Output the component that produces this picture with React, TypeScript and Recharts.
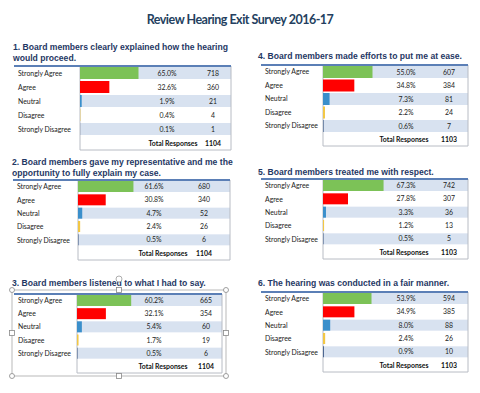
import React from 'react';
import { BarChart, Bar, XAxis, YAxis, Cell, LabelList, ReferenceArea } from 'recharts';

// survey answers, same order in every table
const categories = ['Strongly Agree', 'Agree', 'Neutral', 'Disagree', 'Strongly Disagree'];
const barColors = ['#7cc257', '#ff0000', '#3a8fcb', '#f2c744', '#2f4f80'];

const titles = [
  ['1. Board members clearly explained how the hearing', 'would proceed.'],
  ['2. Board members gave my representative and me the', 'opportunity to fully explain my case.'],
  ['3. Board members listened to what I had to say.'],
  ['4. Board members made efforts to put me at ease.'],
  ['5. Board members treated me with respect.'],
  ['6. The hearing was conducted in a fair manner.'],
];

const pct1 = [65.0, 32.6, 1.9, 0.4, 0.1];
const count1 = [718, 360, 21, 4, 1];
const pct2 = [61.6, 30.8, 4.7, 2.4, 0.5];
const count2 = [680, 340, 52, 26, 6];
const pct3 = [60.2, 32.1, 5.4, 1.7, 0.5];
const count3 = [665, 354, 60, 19, 6];
const pct4 = [55.0, 34.8, 7.3, 2.2, 0.6];
const count4 = [607, 384, 81, 24, 7];
const pct5 = [67.3, 27.8, 3.3, 1.2, 0.5];
const count5 = [742, 307, 36, 13, 5];
const pct6 = [53.9, 34.9, 8.0, 2.4, 0.9];
const count6 = [594, 385, 88, 26, 10];
const totals = [1104, 1104, 1104, 1103, 1103, 1103];

const pcts = [pct1, pct2, pct3, pct4, pct5, pct6];
const counts = [count1, count2, count3, count4, count5, count6];

// where each table sits on the page
const layout = [
  { tx: 13, ty: 42, left: 14, top: 66, labelW: 66, plotW: 151, h: 84, pctX: 87, cntX: 133, totX: 93 },
  { tx: 12, ty: 157, left: 13, top: 180, labelW: 65, plotW: 152, h: 80, pctX: 76, cntX: 126, totX: 85 },
  { tx: 12, ty: 278, left: 14, top: 294, labelW: 63, plotW: 145, h: 79, pctX: 77, cntX: 129, totX: 86 },
  { tx: 258, ty: 51, left: 261, top: 65, labelW: 62, plotW: 145, h: 81, pctX: 83, cntX: 126, totX: 81 },
  { tx: 258, ty: 167, left: 261, top: 179, labelW: 62, plotW: 145, h: 80, pctX: 83, cntX: 126, totX: 81 },
  { tx: 258, ty: 278, left: 261, top: 292, labelW: 62, plotW: 145, h: 80, pctX: 83, cntX: 126, totX: 81 },
];

const PX_PER_PCT = 0.9;
const tableFont = 'Lato, "Open Sans", sans-serif';
const FS = 6.9;

function Panel({ idx }: { idx: number }) {
  const L = layout[idx];
  const data = categories.map((c, i) => ({ name: c, pct: pcts[idx][i], count: counts[idx][i] }));
  data.push({ name: 'Total', pct: 0, count: totals[idx] });
  const maxX = L.plotW / PX_PER_PCT;

  const renderTick = (props: any) => {
    const { y, payload } = props;
    if (payload.value === 'Total') {
      return (
        <g fontFamily={tableFont} fontSize={FS} fontWeight="bold" fill="#111">
          <text x={L.labelW + L.totX} y={y} dy={2.5} textAnchor="middle">Total Responses</text>
          <text x={L.labelW + L.cntX} y={y} dy={2.5} textAnchor="middle">{totals[idx]}</text>
        </g>
      );
    }
    return (
      <text x={4} y={y} dy={2.5} fontSize={FS} fill="#222" fontFamily={tableFont} textAnchor="start">
        {payload.value}
      </text>
    );
  };

  const renderBg = (props: any) => {
    const { x, y, width, height, index } = props;
    if (index % 2 !== 0 || index > 4) return <g key={`bg-${index}`} />;
    return <rect key={`bg-${index}`} x={x} y={y} width={width} height={height} fill="#d8e2f0" />;
  };

  const renderValues = (props: any) => {
    const vb = props.viewBox || props;
    const { index } = props;
    const row = data[index];
    if (!row || row.name === 'Total') return null;
    const x0 = L.labelW;
    const cy = vb.y + vb.height / 2 + 2.5;
    return (
      <g fontFamily={tableFont} fontSize={FS} fill="#222">
        <text x={x0 + L.pctX} y={cy} textAnchor="middle">{row.pct.toFixed(1)}%</text>
        <text x={x0 + L.cntX} y={cy} textAnchor="middle">{row.count}</text>
      </g>
    );
  };

  return (
    <>
      <div
        style={{
          position: 'absolute',
          left: L.tx,
          top: L.ty,
          fontFamily: '"Liberation Sans", Arial, sans-serif',
          fontWeight: 'bold',
          fontSize: 8.6,
          lineHeight: '11px',
          color: '#1f3864',
          whiteSpace: 'nowrap',
        }}
      >
        {titles[idx].map((t) => (
          <div key={t}>{t}</div>
        ))}
      </div>
      <div style={{ position: 'absolute', left: L.left, top: L.top }}>
        <BarChart
          width={L.labelW + L.plotW + 1}
          height={L.h + 1}
          data={data}
          layout="vertical"
          margin={{ top: 0, right: 1, bottom: 1, left: 0 }}
          barCategoryGap={1}
        >
          <XAxis type="number" domain={[0, maxX]} hide />
          <YAxis
            type="category"
            dataKey="name"
            width={L.labelW}
            axisLine={false}
            tickLine={false}
            tick={renderTick}
            interval={0}
          />
          <Bar dataKey="pct" isAnimationActive={false} background={renderBg}>
            {data.map((d, i) => (
              <Cell key={d.name} fill={barColors[i] || 'none'} />
            ))}
            <LabelList dataKey="count" content={renderValues} />
          </Bar>
          <ReferenceArea x1={0} x2={maxX} fill="none" stroke="#b8bcc4" strokeWidth={1} ifOverflow="visible" />
        </BarChart>
        <div
          style={{
            position: 'absolute',
            left: 0,
            top: -1,
            width: L.labelW + L.plotW,
            height: 2,
            background: '#5b7fb6',
          }}
        />
      </div>
    </>
  );
}

function SelectionFrame() {
  // selection handles drawn around table 3 in the source screenshot
  const x0 = 12, y0 = 290, x1 = 226, y1 = 376;
  const mx = (x0 + x1) / 2, my = (y0 + y1) / 2;
  const corners = [[x0, y0], [x1, y0], [x0, y1], [x1, y1]];
  const mids = [[mx, y0], [mx, y1], [x0, my], [x1, my]];
  return (
    <svg width={480} height={393} style={{ position: 'absolute', left: 0, top: 0, pointerEvents: 'none' }}>
      <rect x={x0} y={y0} width={x1 - x0} height={y1 - y0} fill="none" stroke="#a8a8a8" strokeWidth={0.8} />
      {corners.map(([x, y]) => (
        <circle key={`c${x}-${y}`} cx={x} cy={y} r={2.5} fill="#fff" stroke="#888" strokeWidth={0.8} />
      ))}
      {mids.map(([x, y]) => (
        <rect key={`m${x}-${y}`} x={x - 2.5} y={y - 2.5} width={5} height={5} fill="#fff" stroke="#888" strokeWidth={0.8} />
      ))}
      <circle cx={119} cy={279} r={3} fill="#fff" stroke="#999" strokeWidth={0.8} />
    </svg>
  );
}

export default function App() {
  return (
    <div style={{ position: 'absolute', left: 0, top: 0, width: 480, height: 393, background: '#fff', overflow: 'hidden' }}>
      <div
        style={{
          position: 'absolute',
          left: 0,
          top: 12,
          width: 480,
          textAlign: 'center',
          fontFamily: 'Lato, Calibri, sans-serif',
          fontWeight: 'bold',
          fontSize: 12.5,
          letterSpacing: -0.5,
          color: '#243f60',
        }}
      >
        Review Hearing Exit Survey 2016-17
      </div>
      {layout.map((_, i) => (
        <Panel key={i} idx={i} />
      ))}
      <SelectionFrame />
    </div>
  );
}
